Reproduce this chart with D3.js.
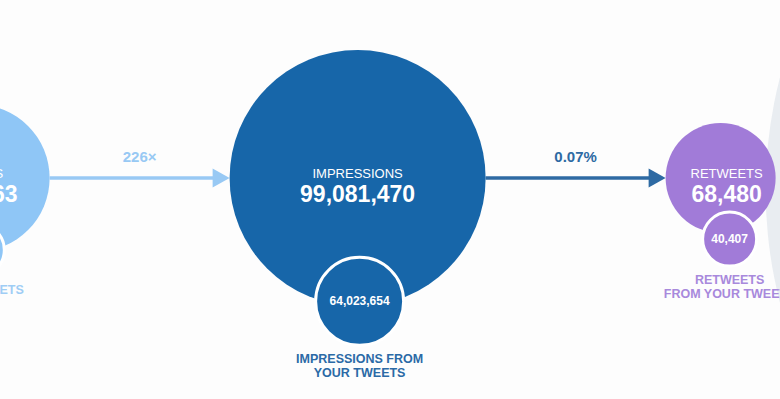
<!DOCTYPE html>
<html>
<head>
<meta charset="utf-8">
<script src="https://cdn.jsdelivr.net/npm/d3@7"></script>
<style>
  html, body { margin: 0; padding: 0; background: #fdfdfd; }
  svg { display: block; font-family: "Liberation Sans", Arial, Helvetica, sans-serif; }
</style>
</head>
<body>
<script>
// funnel stages, left to right
var stages = ["TWEETS", "IMPRESSIONS", "RETWEETS"];
var totals = [438363, 99081470, 68480];
var fromYours = [30000, 64023654, 40407];
var subLabels = [["YOUR TWEETS"], ["IMPRESSIONS FROM", "YOUR TWEETS"], ["RETWEETS", "FROM YOUR TWEETS"]];
var ratios = ["226\u00d7", "0.07%"];

var colors = ["#8fc6f6", "#1766a9", "#a17bd8"];
var labelColors = ["#9fcdf5", "#2b6aa6", "#a889dc"];
var ratioColors = ["#98c9f4", "#2e6aa3"];

var w = 780, h = 399;
var cy = 178, gap = 180;

var fmt = d3.format(",");

// radius of the big circles: log scale of the totals
var r = d3.scaleLog()
    .domain([68480, 99081470])
    .range([55, 128]);

// radius of the inner "from your tweets" circles
var rSub = d3.scaleLog()
    .domain([40407, 64023654])
    .range([27, 44]);

var nodes = stages.map(function (s, i) {
  return { name: s, total: totals[i], sub: fromYours[i], i: i, r: r(totals[i]), rs: rSub(fromYours[i]) };
});

// chain layout: each circle sits one arrow gap after the previous one
nodes.forEach(function (d, i) {
  d.x = i === 0 ? -24 : nodes[i - 1].x + nodes[i - 1].r + gap + d.r;
  d.sy = cy + 0.62 * d.r + d.rs;          // inner circle hangs off the bottom
  d.sx = d.x + (d.r < 60 ? 9 : 2);
});

var svg = d3.select('body').append('svg')
    .attr('width', w)
    .attr('height', h);

// next (faded) stage peeking in on the right
var last = nodes[nodes.length - 1];
svg.append('circle')
    .attr('cx', last.x + 45 + 450)
    .attr('cy', cy + 12)
    .attr('r', 450)
    .style('fill', '#e9edf1');

// arrows between stages
var links = d3.pairs(nodes);
var arrows = svg.selectAll('.arrow')
    .data(links)
    .enter().append('g')
    .attr('class', 'arrow');

arrows.append('line')
    .attr('x1', function (d) { return d[0].x + d[0].r; })
    .attr('x2', function (d) { return d[1].x - d[1].r - 12; })
    .attr('y1', cy)
    .attr('y2', cy)
    .style('stroke', function (d, i) { return ratioColors[i]; })
    .style('stroke-width', 3.5);

arrows.append('path')
    .attr('d', function (d) {
      var tip = d[1].x - d[1].r;
      return 'M' + tip + ',' + cy + 'L' + (tip - 17) + ',' + (cy - 9.5) + 'L' + (tip - 17) + ',' + (cy + 9.5) + 'Z';
    })
    .style('fill', function (d, i) { return ratioColors[i]; });

arrows.append('text')
    .attr('x', function (d) { return (d[0].x + d[0].r + d[1].x - d[1].r) / 2; })
    .attr('y', cy - 16)
    .attr('text-anchor', 'middle')
    .style('font-size', '15px')
    .style('font-weight', 'bold')
    .style('fill', function (d, i) { return ratioColors[i]; })
    .text(function (d, i) { return ratios[i]; });

// stage circles
var g = svg.selectAll('.stage')
    .data(nodes)
    .enter().append('g')
    .attr('class', 'stage');

g.append('circle')
    .attr('cx', function (d) { return d.x; })
    .attr('cy', cy)
    .attr('r', function (d) { return d.r; })
    .style('fill', function (d) { return colors[d.i]; });

g.append('circle')
    .attr('cx', function (d) { return d.sx; })
    .attr('cy', function (d) { return d.sy; })
    .attr('r', function (d) { return d.rs; })
    .style('fill', function (d) { return colors[d.i]; })
    .style('stroke', '#fff')
    .style('stroke-width', 3);

g.append('text')
    .attr('x', function (d) { return d.x + (d.r < 60 ? 6 : 0); })
    .attr('y', cy)
    .attr('text-anchor', 'middle')
    .style('font-size', '13px')
    .style('fill', '#fff')
    .text(function (d) { return d.name; });

g.append('text')
    .attr('x', function (d) { return d.x + (d.r < 60 ? 6 : 0); })
    .attr('y', cy + 24)
    .attr('text-anchor', 'middle')
    .style('font-size', '23px')
    .style('font-weight', 'bold')
    .style('fill', '#fff')
    .text(function (d) { return fmt(d.total); });

g.filter(function (d) { return d.x > 0; })
  .append('text')
    .attr('x', function (d) { return d.sx; })
    .attr('y', function (d) { return d.sy + 4; })
    .attr('text-anchor', 'middle')
    .style('font-size', '12px')
    .style('font-weight', 'bold')
    .style('fill', '#fff')
    .text(function (d) { return fmt(d.sub); });

// labels under the inner circles
g.each(function (d) {
  var lines = subLabels[d.i];
  d3.select(this).selectAll('.sublabel')
      .data(lines)
      .enter().append('text')
      .attr('class', 'sublabel')
      .attr('x', d.sx)
      .attr('y', function (t, j) { return d.sy + d.rs + 18 + j * 14; })
      .attr('text-anchor', 'middle')
      .style('font-size', '12.5px')
      .style('font-weight', 'bold')
      .style('fill', labelColors[d.i])
      .text(function (t) { return t; });
});
</script>
</body>
</html>
